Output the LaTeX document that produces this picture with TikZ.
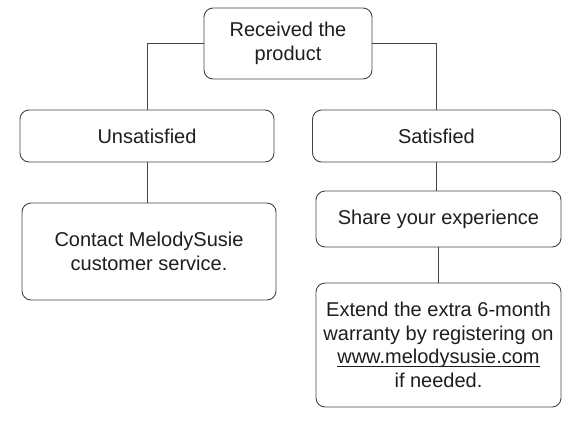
\documentclass[tikz,border=0pt]{standalone}
\usepackage{fontspec}
\setmainfont{Liberation Sans}
\definecolor{ink}{HTML}{1E1E1E}
\definecolor{rule}{HTML}{444444}
\newcommand\linkline[1]{\setbox0\hbox{#1}\rlap{\rule[-2.5pt]{\wd0}{0.8pt}}\box0}
\begin{document}
\begin{tikzpicture}[x=1pt,y=-1pt,
    box/.style={draw=rule,line width=0.9pt,rounded corners=9pt,fill=white,
      text=ink,align=center,inner sep=0pt,font=\fontsize{20}{23.5}\selectfont}]
  \useasboundingbox (0,0) rectangle (575,432);
  \draw
    (288,43.5) node[box,minimum width=168pt,minimum height=71pt] (received){Received the\\product}
    (147,136) node[box,minimum width=254pt,minimum height=52pt] (unsat){Unsatisfied}
    (436.5,136) node[box,minimum width=248pt,minimum height=52pt] (sat){Satisfied}
    (149,251.5) node[box,minimum width=254pt,minimum height=97pt] (contact){Contact MelodySusie\\customer service.}
    (438.5,219) node[box,minimum width=245pt,minimum height=56pt] (share){Share your experience}
    (438.5,345) node[box,minimum width=245pt,minimum height=124pt] (extend){Extend the extra 6-month\\warranty by registering on\\\linkline{www.melodysusie.com}\\if needed.};
  \begin{scope}[draw=rule,line width=0.9pt]
    \draw (received.west) -| (unsat.north);
    \draw (received.east) -| (sat.north);
    \draw (unsat.south) to (unsat.south |- contact.north);
    \draw (sat.south) to (sat.south |- share.north);
    \draw (share.south) to (share.south |- extend.north);
  \end{scope}
\end{tikzpicture}
\end{document}
